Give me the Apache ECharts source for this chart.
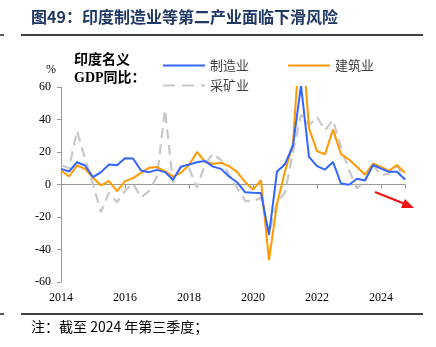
<!DOCTYPE html>
<html><head><meta charset="utf-8">
<script src="https://cdn.jsdelivr.net/npm/echarts@6/dist/echarts.min.js"></script>
<style>html,body{margin:0;padding:0;background:#fff;}#c{width:436px;height:347px;}</style>
</head><body><div id="c"></div>
<script>
// quarterly points (44)
const quarters = [];
for (let y = 2013, q = 4; quarters.length < 44; ) { quarters.push(y + 'Q' + q); q++; if (q > 4) { q = 1; y++; } }
const xTickLabels = ['2014', '2016', '2018', '2020', '2022', '2024'];
const yTicks = [-60, -40, -20, 0, 20, 40, 60];

const manufacturing = [9.6, 8, 13.7, 11.7, 4.5, 7.6, 12.3, 11.9, 16.2, 16, 8.6, 7.6, 9, 7.6, 2.9, 11, 12.3, 13.7, 14.4, 11, 9.6, 4.9, 1.4, -4.7, -5.1, -5.3, -31, 8, 12.5, 24, 61, 17, 11.3, 9.2, 13.9, 0.6, -0.2, 3.5, 2.5, 12, 9.8, 7.8, 7.8, 3.1];
const construction = [8.6, 4.9, 11.7, 9.6, 4.1, -0.6, 2.1, -4.1, 2.1, 3.9, 7.2, 10.3, 10.7, 8.2, 4.9, 7.2, 12, 20, 14, 12.8, 13.3, 11.3, 7.8, 1.6, -3.1, 2.6, -46.6, -12, 8, 25, 100, 34.5, 20.5, 18.6, 33.8, 18.6, 15.4, 10.8, 6, 12.9, 10.8, 8.4, 11.9, 7.2];
const mining = [12, 10, 33, 16, 0, -17, -5, -11, -4, 0.7, -8, -4, 5, 46, 1, 11, 10, -2, 12.5, 19, 15, 6, -2, -10, -10.5, -8, -30, -11, -5, 20, 43, 36.5, 41.6, 33.4, 39.6, 23, 8.8, -2.5, 2.6, 11.9, 5.7, 6.8, 11.9, 3];

const seriesNames = ['制造业', '建筑业', '采矿业'];
const colors = ['#3366FF', '#FF9900', '#C8C8C8'];

const chart = echarts.init(document.getElementById('c'), null, {renderer: 'canvas'});
const labelIdx = (i) => i % 8 === 0;
const serif = '"Liberation Serif", "Times New Roman", serif';
const cjk = '"Noto Sans CJK SC", sans-serif';
const solidIcon = 'path://M0,0H42V2H0Z';
const dashIcon = 'path://M0,0H12V2H0Z M19,0H31V2H19Z M38,0H42V2H38Z';
const legendBase = {itemWidth: 42, itemHeight: 2, itemGap: 4,
  textStyle: {fontFamily: cjk, fontSize: 13, color: '#404040'}};

chart.setOption({
  animation: false,
  grid: {left: 61, top: 87, width: 344, height: 195, containLabel: false},
  xAxis: [{
    type: 'category', data: quarters, boundaryGap: false,
    axisLine: {onZero: true, lineStyle: {color: '#999', width: 1}},
    axisTick: {show: true, length: 4, interval: (i) => labelIdx(i) || i === 43, lineStyle: {color: '#999'}},
    axisLabel: {show: false}, splitLine: {show: false}
  }, {
    type: 'category', data: quarters, boundaryGap: false, position: 'bottom',
    axisLine: {show: false, onZero: false}, axisTick: {show: false},
    axisLabel: {show: true, interval: (i) => labelIdx(i), margin: 10,
      formatter: (v, i) => xTickLabels[i / 8] || '',
      fontFamily: serif, fontSize: 12, color: '#000'},
    splitLine: {show: false}
  }],
  yAxis: {
    type: 'value', min: yTicks[0], max: yTicks[yTicks.length - 1], interval: 20,
    axisLine: {show: true, lineStyle: {color: '#999'}},
    axisTick: {show: true, length: 4, lineStyle: {color: '#999'}},
    axisLabel: {fontFamily: serif, fontSize: 12, color: '#000', margin: 10},
    splitLine: {show: false}
  },
  legend: [
    Object.assign({data: [{name: seriesNames[0], icon: solidIcon}], left: 158, top: 54}, legendBase),
    Object.assign({data: [{name: seriesNames[1], icon: solidIcon}], left: 283, top: 54}, legendBase),
    Object.assign({data: [{name: seriesNames[2], icon: dashIcon}], left: 158, top: 74}, legendBase)
  ],
  series: [
    {name: seriesNames[2], type: 'line', data: mining, symbol: 'none', z: 1,
      lineStyle: {color: colors[2], width: 2.2, type: [10, 6]}, itemStyle: {color: colors[2]}},
    {name: seriesNames[1], type: 'line', data: construction, symbol: 'none', z: 2,
      lineStyle: {color: colors[1], width: 2}, itemStyle: {color: colors[1]}},
    {name: seriesNames[0], type: 'line', data: manufacturing, symbol: 'none', z: 3,
      lineStyle: {color: colors[0], width: 2}, itemStyle: {color: colors[0]}}
  ],
  graphic: [
    {type: 'text', left: 31, top: 9, style: {text: '图49：印度制造业等第二产业面临下滑风险', font: 'bold 16px "Noto Sans CJK SC"', fill: '#1F3864'}},
    {type: 'line', shape: {x1: 21, y1: 35, x2: 423, y2: 35}, style: {stroke: '#000', lineWidth: 1.3}},
    {type: 'line', shape: {x1: 0, y1: 35, x2: 4, y2: 35}, style: {stroke: '#000', lineWidth: 1.3}},
    {type: 'line', shape: {x1: 21, y1: 314, x2: 423, y2: 314}, style: {stroke: '#000', lineWidth: 1.3}},
    {type: 'line', shape: {x1: 0, y1: 314, x2: 4, y2: 314}, style: {stroke: '#000', lineWidth: 1.3}},
    {type: 'text', left: 31, top: 320, style: {text: '注：截至 2024 年第三季度；', font: '14px "Noto Sans CJK SC"', fill: '#000'}},
    {type: 'text', left: 74, top: 52, style: {text: '印度名义', font: 'bold 14px "Noto Sans CJK SC"', fill: '#000'}},
    {type: 'text', left: 74, top: 71, style: {text: 'GDP同比：', font: 'bold 14px "Liberation Serif", "Noto Sans CJK SC"', fill: '#000'}},
    {type: 'text', left: 46, top: 64, style: {text: '%', font: '12px "Liberation Serif"', fill: '#000'}},
    {type: 'line', shape: {x1: 375, y1: 192, x2: 405, y2: 204}, style: {stroke: '#F01010', lineWidth: 2}},
    {type: 'polygon', shape: {points: [[414, 208], [401, 208], [405, 199]]}, style: {fill: '#F01010'}}
  ]
});
</script></body></html>
